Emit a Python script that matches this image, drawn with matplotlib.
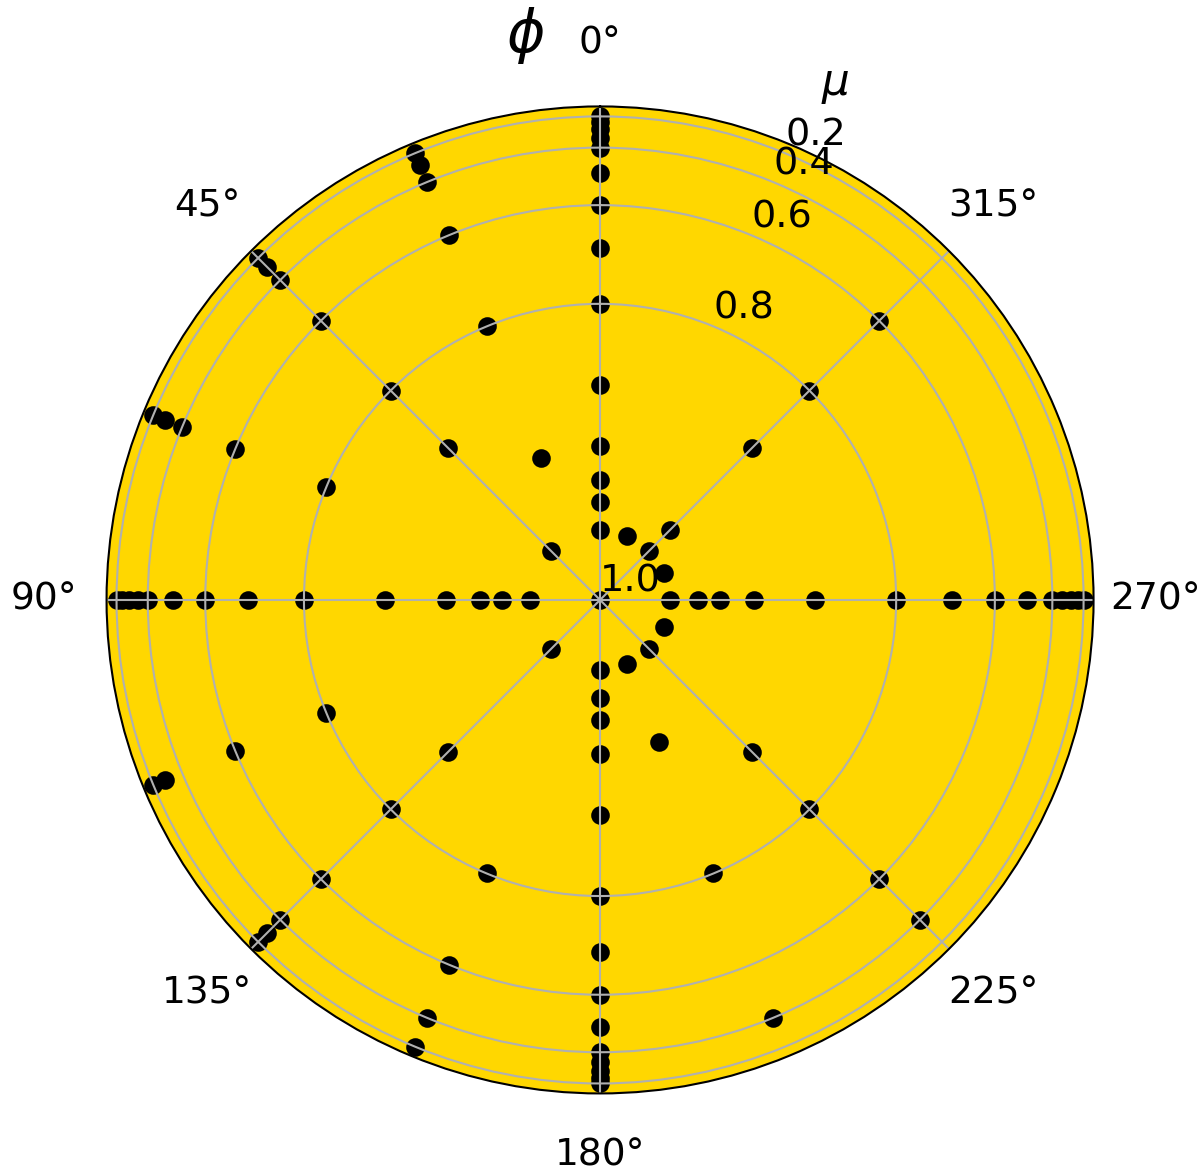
import matplotlib
matplotlib.use('Agg')
import matplotlib.pyplot as plt
import numpy as np

plt.rcParams['font.size'] = 9.0

# Directions: azimuth phi (degrees) and cosine mu for each ray
mu_center = [1.0]
phi_cardinal = [0, 90, 180, 270]
mu_cardinal = [0.99, 0.98, 0.97, 0.95, 0.9, 0.8, 0.7, 0.6, 0.5, 0.4, 0.35, 0.3, 0.25, 0.2]
phi_diag = [45, 135]
mu_diag = [0.99, 0.9, 0.8, 0.6, 0.4, 0.3, 0.2]
mu_225 = [0.99, 0.9, 0.8, 0.6, 0.4]
mu_315 = [0.99, 0.98, 0.9, 0.8, 0.6]
mu_22 = [0.95, 0.8, 0.6, 0.4, 0.3, 0.2]
mu_67 = [0.8, 0.6, 0.4, 0.3, 0.2]
mu_112 = [0.8, 0.6, 0.3, 0.2]
mu_157 = [0.8, 0.6, 0.4, 0.2]
mu_202 = [0.99, 0.95, 0.8, 0.4]
mu_247 = [0.99]
mu_292 = [0.99]
mu_337 = [0.99]

mu_ticks = [0.2, 0.4, 0.6, 0.8, 1.0]
mu_tick_labels = ['0.2', '0.4', '0.6', '0.8', '1.0']

# collect (phi, mu) pairs
phis, mus = [0.0], list(mu_center)
for p in phi_cardinal:
    phis += [p] * len(mu_cardinal)
    mus += mu_cardinal
for p in phi_diag:
    phis += [p] * len(mu_diag)
    mus += mu_diag
for p, m in [(225, mu_225), (315, mu_315), (22.5, mu_22), (67.5, mu_67),
             (112.5, mu_112), (157.5, mu_157), (202.5, mu_202),
             (247.5, mu_247), (292.5, mu_292), (337.5, mu_337)]:
    phis += [p] * len(m)
    mus += m

theta = np.deg2rad(phis)
r = np.sqrt(1 - np.array(mus) ** 2)

fig = plt.figure(figsize=(4, 3.92), dpi=300)
ax = fig.add_axes([0.0888, 0.0702, 0.8225, 0.8393], projection='polar')
ax.set_facecolor('gold')
ax.set_theta_zero_location('N')

ax.scatter(theta, r, s=12, color='black')

ax.set_rlim(0, 1)
ax.set_rticks(np.sqrt(1 - np.array(mu_ticks) ** 2))
ax.set_yticklabels(mu_tick_labels, fontsize=9.2)
ax.set_rlabel_position(337.5)
ax.grid(True, linewidth=0.5)
ax.spines['polar'].set_linewidth(0.5)
ax.tick_params(axis='x', pad=4.5)

ax.text(0.738, 1.022, r'$\mu$', transform=ax.transAxes, ha='center', va='center', fontsize=10.5)
ax.text(0.424, 1.072, r'$\phi$', transform=ax.transAxes, ha='center', va='center', fontsize=14)

plt.savefig('out.png', dpi=300)
